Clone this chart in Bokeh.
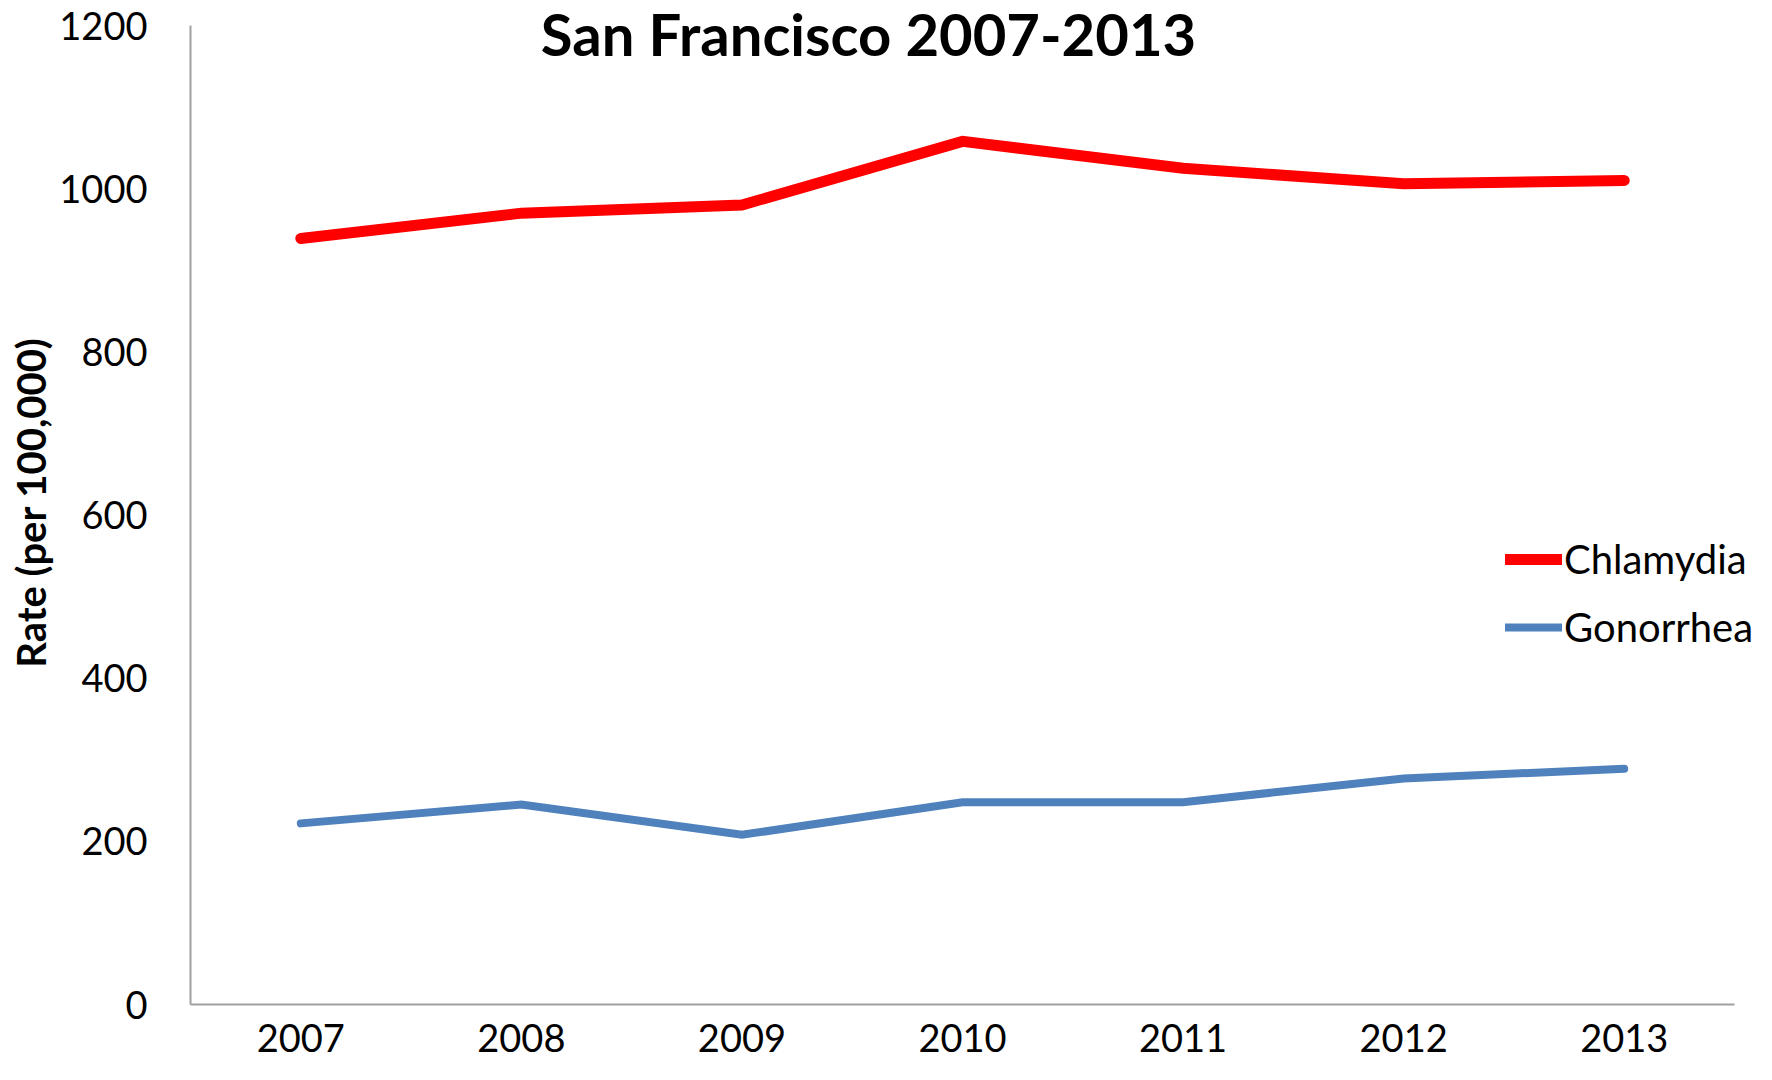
from bokeh.plotting import figure
from bokeh.models import Legend, LegendItem, Label, FixedTicker, Range1d
from bokeh.embed import file_html
from bokeh.resources import INLINE

years = ["2007", "2008", "2009", "2010", "2011", "2012", "2013"]
chlamydia = [939, 970, 980, 1058, 1025, 1006, 1010]
gonorrhea = [222, 245, 208, 248, 248, 277, 289]
y_ticks = [0, 200, 400, 600, 800, 1000, 1200]
y_max = 1200
title_text = "San Francisco 2007-2013"
y_label = "Rate (per 100,000)"

FONT = "Lato"
xpos = list(range(len(years)))

# layout (pixels)
W, H = 1756, 1064
LEFT, TOP, RIGHT, BOTTOM = 190, 0, 0, 60
axis_w = 1544          # drawn length of the x axis line
axis_h = 979           # drawn length of the y axis line (0..y_max)
frame_w = W - LEFT - RIGHT
frame_h = H - TOP - BOTTOM
x_end = -0.5 + len(years) * frame_w / axis_w
y_end = y_max * frame_h / axis_h

p = figure(x_range=Range1d(-0.5, x_end), y_range=Range1d(0, y_end), width=W, height=H,
           output_backend="svg", toolbar_location=None,
           min_border_left=LEFT, min_border_top=TOP, min_border_right=RIGHT,
           min_border_bottom=BOTTOM)
p.outline_line_color = None
p.grid.grid_line_color = None
p.background_fill_color = "white"
p.border_fill_color = "white"

r1 = p.line(xpos, chlamydia, line_color="#FF0000", line_width=11, line_cap="round", line_join="miter")
r2 = p.line(xpos, gonorrhea, line_color="#4F81BD", line_width=8, line_cap="round", line_join="miter")

p.yaxis.ticker = FixedTicker(ticks=y_ticks)
p.yaxis.bounds = (0, y_max)
p.xaxis.ticker = FixedTicker(ticks=xpos)
p.xaxis.major_label_overrides = {i: y for i, y in zip(xpos, years)}
p.xaxis.bounds = (-0.5, len(years) - 0.5)
for ax in (p.xaxis[0], p.yaxis[0]):
    ax.axis_line_color = "#A0A0A0"
    ax.axis_line_width = 2
    ax.major_tick_line_color = None
    ax.minor_tick_line_color = None
    ax.major_label_text_font = FONT
    ax.major_label_text_font_size = "38px"
    ax.major_label_text_color = "black"
p.yaxis.major_label_standoff = 37
p.xaxis.major_label_standoff = 13
p.yaxis.axis_label = y_label
p.yaxis.axis_label_text_font = FONT
p.yaxis.axis_label_text_font_style = "bold"
p.yaxis.axis_label_text_font_size = "40px"
p.yaxis.axis_label_text_color = "black"
p.yaxis.axis_label_standoff = 1

legend = Legend(items=[LegendItem(label="Chlamydia", renderers=[r1]),
                       LegendItem(label="Gonorrhea", renderers=[r2])],
                location=(1315, 353), orientation="vertical",
                glyph_width=57, glyph_height=40, label_height=40,
                label_standoff=2, spacing=20, padding=0, margin=0,
                border_line_color=None, background_fill_alpha=0,
                label_text_font=FONT, label_text_font_size="40px",
                label_text_color="black")
p.add_layout(legend, "center")

title = Label(x=678, y=971, x_units="screen", y_units="screen", text=title_text,
              text_align="center", text_baseline="alphabetic",
              text_font=FONT, text_font_style="bold", text_font_size="58px",
              text_color="black")
p.add_layout(title)

open("out.html", "w").write(file_html(p, INLINE))
